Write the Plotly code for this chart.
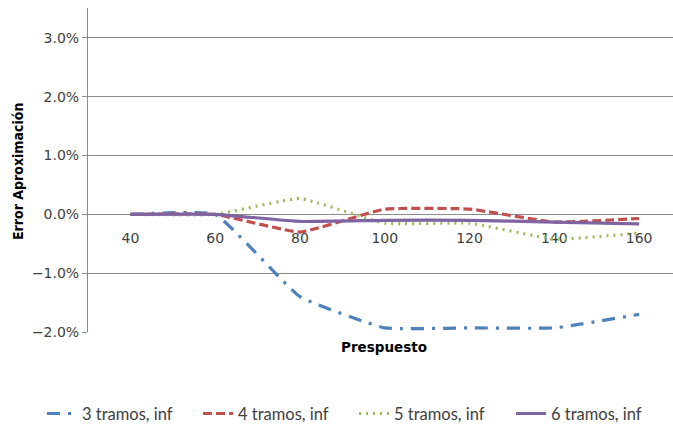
import plotly.graph_objects as go

# Budget categories on the x axis
presupuesto = ["40", "60", "80", "100", "120", "140", "160"]

# Approximation error (fraction) for each number of segments
err_3_tramos = [0.0, 0.0, -0.0140, -0.0193, -0.0193, -0.0193, -0.0170]
err_4_tramos = [0.0, 0.0, -0.0030, 0.0009, 0.0009, -0.0013, -0.0007]
err_5_tramos = [0.0, 0.0, 0.0027, -0.0015, -0.0015, -0.0042, -0.0032]
err_6_tramos = [0.0, 0.0, -0.0012, -0.0010, -0.0010, -0.0013, -0.0016]

y_ticks = [-0.02, -0.01, 0.0, 0.01, 0.02, 0.03]

series = [
    ("3 tramos, inf", err_3_tramos, "#4F81BD", "13px,8px,3px,8px"),
    ("4 tramos, inf", err_4_tramos, "#C0504D", "9px,4px"),
    ("5 tramos, inf", err_5_tramos, "#9BBB59", "2px,5px"),
    ("6 tramos, inf", err_6_tramos, "#8064A2", "solid"),
]

TICK_FONT = "DejaVu Sans, Verdana, sans-serif"
COND_FONT = "DejaVu Sans Condensed, DejaVu Sans, sans-serif"
LEG_FONT = "Lato, Open Sans, sans-serif"
GRID = "#8C8C8C"

# one legend box per series, laid out in a single row along the bottom
legend_ids = ["legend", "legend2", "legend3", "legend4"]
legend_left_px = [42, 198, 354, 511]

fig = go.Figure()
for (name, vals, color, dash), lid in zip(series, legend_ids):
    fig.add_trace(go.Scatter(
        x=presupuesto, y=vals, name=name, mode="lines", legend=lid,
        line=dict(color=color, width=3.2, dash=dash, shape="spline", smoothing=0.35),
    ))

legend_layouts = {
    lid: dict(
        orientation="h", xref="container", yref="container",
        x=px / 673, xanchor="left", y=0.031, yanchor="middle",
        font=dict(size=16.5, color="#404040", family=LEG_FONT),
        bgcolor="rgba(0,0,0,0)",
    )
    for lid, px in zip(legend_ids, legend_left_px)
}

fig.update_layout(
    width=673, height=427,
    margin=dict(l=88, r=0, t=8, b=95),
    plot_bgcolor="white", paper_bgcolor="white",
    font=dict(family=TICK_FONT, size=14, color="#404040"),
    showlegend=True,
    **legend_layouts,
    xaxis=dict(
        type="category", range=[-0.5, 6.4],
        anchor="free", position=2 / 5.51,
        showline=True, linecolor=GRID, linewidth=1,
        showgrid=False, zeroline=False,
        ticks="outside", ticklen=11, tickcolor="rgba(0,0,0,0)",
        tickfont=dict(size=14, color="#404040"),
        layer="below traces",
    ),
    yaxis=dict(
        range=[-0.02, 0.0351], tickvals=y_ticks, tickformat=".1%",
        showline=True, linecolor=GRID, linewidth=1,
        showgrid=True, gridcolor=GRID, gridwidth=1,
        zeroline=False, ticks="outside", ticklen=5, tickcolor=GRID,
        tickfont=dict(size=14, color="#404040"),
        layer="below traces",
    ),
    annotations=[
        dict(text="<b>Error Aproximación</b>", xref="paper", yref="paper",
             x=(18 - 88) / 585, y=(332 - 172) / 324, xanchor="center", yanchor="middle",
             textangle=-90, showarrow=False,
             font=dict(size=14, color="#000000", family=COND_FONT)),
        dict(text="<b>Prespuesto</b>", xref="paper", yref="paper",
             x=(384 - 88) / 585, y=-(347 - 332) / 324, xanchor="center",
             yanchor="middle", showarrow=False,
             font=dict(size=13.5, color="#000000", family=TICK_FONT)),
    ],
)

fig.write_html("out.html")
